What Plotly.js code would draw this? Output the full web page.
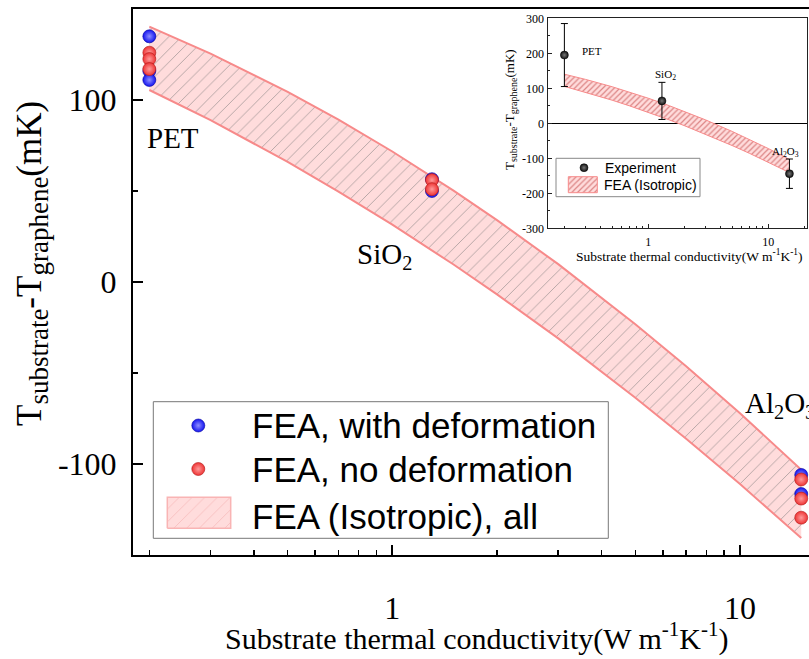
<!DOCTYPE html>
<html><head><meta charset="utf-8">
<script src="https://cdn.plot.ly/plotly-3.0.1.min.js"></script>
<style>html,body{margin:0;padding:0;overflow:hidden;background:#fff}#chart{width:821px;height:659px}</style>
</head><body><div id="chart"></div>
<script>
// ---------- data ----------
const withDefK = [0.2, 0.2, 0.2, 1.3, 1.3, 15, 15];
const withDefT = [135, 116, 111, 56.5, 50, -106, -116.5];
const noDefK = [0.2, 0.2, 0.2, 1.3, 1.3, 15, 15, 15];
const noDefT = [126, 122.5, 117, 56, 51, -108.5, -119, -129.5];
const bandK = [0.2, 0.3, 0.5, 0.7, 1, 1.5, 2, 3, 5, 7, 10, 15];
const bandUpper = [140.3, 125.5, 104.5, 89.2, 71.7, 50.2, 34.0, 9.8, -23.2, -46.3, -72.1, -103.1];
const bandLower = [105.5, 88.9, 66.0, 49.7, 31.5, 9.6, -6.8, -31.0, -63.6, -86.1, -111.0, -140.7];
const expK = [0.2, 1.3, 15];
const expT = [195, 64, -144];
const expErr = [90, 53, 42];
const xTickVals = [1, 10];
const xTickText = ['1', '10'];
const xMinorVals = [0.2, 0.3, 0.4, 0.5, 0.6, 0.7, 0.8, 0.9, 2, 3, 4, 5, 6, 7, 8, 9, 20];
const yTickVals = [-100, 0, 100];
const yTickText = ['-100', '0', '100'];
const yMinorVals = [-150, -50, 50, 150];
const insetYTickVals = [-300, -200, -100, 0, 100, 200, 300];
const insetYTickText = ['-300', '-200', '-100', '0', '100', '200', '300'];
const insetYMinorVals = [-250, -150, -50, 50, 150, 250];
const mainLabels = ['PET', 'SiO<sub>2</sub>', 'Al<sub>2</sub>O<sub>3</sub>'];
const legendNames = ['FEA, with deformation', 'FEA, no deformation', 'FEA (Isotropic), all'];
const insetLegendNames = ['Experiment', 'FEA (Isotropic)'];

// ---------- geometry helpers (pixel -> paper) ----------
const L = 133, R = 821, T = 9, B = 555;
const px = x => (x - L) / (R - L);
const py = y => 1 - (y - T) / (B - T);

const serif = 'Liberation Serif, Times New Roman, serif';
const sans = 'Liberation Sans, Arial, sans-serif';
const bandLine = {color: '#f78a8a', width: 2};
const blueM = {size: 13, color: '#1414f0', gradient: {type: 'radial', color: '#8f8fff'}, line: {width: 0.6, color: '#0000a0'}};
const redM = {size: 13, color: '#ee3434', gradient: {type: 'radial', color: '#ff9b9b'}, line: {width: 0.6, color: '#b01818'}};
const blackM = {size: 8, color: '#111', gradient: {type: 'radial', color: '#777'}, line: {width: 0.5, color: '#000'}};
const mainPattern = {shape: '/', fgcolor: 'rgba(110,110,110,0.55)', bgcolor: '#ffdcdc', size: 9, solidity: 0.1};
const insetPattern = {shape: '/', fgcolor: 'rgba(210,110,110,0.8)', bgcolor: '#ffdcdc', size: 4, solidity: 0.3};

const traces = [
  {x: bandK, y: bandLower, mode: 'lines', line: bandLine, showlegend: false, hoverinfo: 'skip'},
  {x: bandK, y: bandUpper, mode: 'lines', line: bandLine, fill: 'tonexty', fillcolor: '#ffdcdc', fillpattern: mainPattern, showlegend: false, hoverinfo: 'skip'},
  {x: withDefK, y: withDefT, mode: 'markers', marker: blueM, showlegend: false},
  {x: noDefK, y: noDefT, mode: 'markers', marker: redM, showlegend: false},
  {x: bandK, y: bandLower, xaxis: 'x2', yaxis: 'y2', mode: 'lines', line: {color: '#f78a8a', width: 1}, showlegend: false},
  {x: bandK, y: bandUpper, xaxis: 'x2', yaxis: 'y2', mode: 'lines', line: {color: '#f78a8a', width: 1}, fill: 'tonexty', fillcolor: '#ffdcdc', fillpattern: insetPattern, showlegend: false},
  {x: expK, y: expT, xaxis: 'x2', yaxis: 'y2', mode: 'markers', marker: blackM,
   error_y: {type: 'data', array: expErr, visible: true, color: '#000', thickness: 1, width: 3.5}, showlegend: false}
];

// legend swatches (layout only, on a hidden paper-like axis)
const lgRows = [425.5, 469, 516.5];
traces.push({x: [px(198.3)], y: [py(lgRows[0])], xaxis: 'x3', yaxis: 'y3', mode: 'markers', marker: blueM, showlegend: false, hoverinfo: 'skip'});
traces.push({x: [px(198.3)], y: [py(lgRows[1])], xaxis: 'x3', yaxis: 'y3', mode: 'markers', marker: redM, showlegend: false, hoverinfo: 'skip'});
const rx0 = px(167.3), rx1 = px(230.7), ry0 = py(528.3), ry1 = py(497.3);
traces.push({x: [rx0, rx1, rx1, rx0, rx0], y: [ry0, ry0, ry1, ry1, ry0], xaxis: 'x3', yaxis: 'y3', mode: 'lines',
  line: {color: '#f9b4b4', width: 1.5}, fill: 'toself', fillcolor: '#ffdada',
  fillpattern: {shape: '/', fgcolor: 'rgba(240,160,160,0.5)', bgcolor: '#ffdcdc', size: 9, solidity: 0.1}, showlegend: false, hoverinfo: 'skip'});
traces.push({x: [px(584)], y: [py(167.7)], xaxis: 'x3', yaxis: 'y3', mode: 'markers', marker: blackM, showlegend: false, hoverinfo: 'skip'});
const ix0 = px(568.3), ix1 = px(597.3), iy0 = py(192.7), iy1 = py(176.7);
traces.push({x: [ix0, ix1, ix1, ix0, ix0], y: [iy0, iy0, iy1, iy1, iy0], xaxis: 'x3', yaxis: 'y3', mode: 'lines',
  line: {color: '#f78a8a', width: 1}, fill: 'toself', fillcolor: '#ffdcdc', fillpattern: insetPattern, showlegend: false, hoverinfo: 'skip'});

const ann = [];
function addAnn(text, x, y, size, family, xanchor, extra) {
  ann.push(Object.assign({text: text, x: px(x), y: py(y), xref: 'paper', yref: 'paper', showarrow: false,
    xanchor: xanchor || 'center', yanchor: 'middle', font: {family: family, size: size, color: '#000'}}, extra || {}));
}
// main labels
addAnn(mainLabels[0], 145, 138, 29, serif, 'left');
addAnn(mainLabels[1], 355, 256, 29, serif, 'left');
addAnn(mainLabels[2], 743, 405, 29, serif, 'left');
// inset labels
addAnn('PET', 580, 51, 11, serif, 'left');
addAnn('SiO<sub>2</sub>', 653, 75, 11, serif, 'left');
addAnn('Al<sub>2</sub>O<sub>3</sub>', 770, 152, 11, serif, 'left');
// legend texts
addAnn(legendNames[0], 250, lgRows[0], 35, sans, 'left');
addAnn(legendNames[1], 250, lgRows[1], 35, sans, 'left');
addAnn(legendNames[2], 250, lgRows[2], 35, sans, 'left');
addAnn(insetLegendNames[0], 602.5, 167.7, 14, sans, 'left');
addAnn(insetLegendNames[1], 601.5, 185, 14, sans, 'left');
// axis titles
addAnn('Substrate thermal conductivity(W m<sup>-1</sup>K<sup>-1</sup>)', 477, 636, 30, serif, 'center');
addAnn('T<sub><span style="font-size:27px">substrate</span></sub>-T<sub><span style="font-size:27px">graphene</span></sub>(mK)', 32, 264, 35, serif, 'center', {textangle: -90});
addAnn('Substrate thermal conductivity(W m<sup>-1</sup>K<sup>-1</sup>)', 689, 256, 13.5, serif, 'center');
addAnn('T<sub><span style="font-size:10px">substrate</span></sub>-T<sub><span style="font-size:10px">graphene</span></sub>(mK)', 510, 110, 13, serif, 'center', {textangle: -90});

const shapes = [
  {type: 'rect', xref: 'paper', yref: 'paper', x0: px(153.3), x1: px(608.3), y0: py(538.3), y1: py(401.7), line: {color: '#777', width: 1}, fillcolor: 'rgba(0,0,0,0)'},
  {type: 'rect', xref: 'paper', yref: 'paper', x0: px(556), x1: px(700), y0: py(196.7), y1: py(158.3), line: {color: '#888', width: 1}, fillcolor: 'rgba(0,0,0,0)'}
];

const layout = {
  width: 821, height: 659,
  margin: {l: L, r: 0, t: T, b: 659 - B, autoexpand: false},
  paper_bgcolor: '#fff', plot_bgcolor: 'rgba(0,0,0,0)',
  showlegend: false,
  xaxis: {type: 'log', range: [Math.log10(0.1795), Math.log10(17.1)], showline: true, linewidth: 2, linecolor: '#000', mirror: true,
    showgrid: false, zeroline: false, ticks: 'inside', ticklen: 10, tickwidth: 2, tickcolor: '#000',
    tickmode: 'array', tickvals: xTickVals, ticktext: xTickText, ticklabelstandoff: 24,
    tickfont: {family: serif, size: 32, color: '#000'},
    minor: {tickmode: 'array', tickvals: xMinorVals, ticks: 'inside', ticklen: 5, tickwidth: 1.5, tickcolor: '#000', showgrid: false}},
  yaxis: {range: [-150, 150], showline: true, linewidth: 2, linecolor: '#000', mirror: true,
    showgrid: false, zeroline: false, ticks: 'inside', ticklen: 10, tickwidth: 2, tickcolor: '#000',
    tickmode: 'array', tickvals: yTickVals, ticktext: yTickText, ticklabelstandoff: 8,
    tickfont: {family: serif, size: 32, color: '#000'},
    minor: {tickmode: 'array', tickvals: yMinorVals, ticks: 'inside', ticklen: 5, tickwidth: 1.5, tickcolor: '#000', showgrid: false}},
  xaxis2: {type: 'log', domain: [px(548.3), px(806.7)], anchor: 'y2', range: [-0.833, 1.32], showline: true, linewidth: 1, linecolor: '#222', mirror: true,
    showgrid: false, zeroline: false, ticks: 'inside', ticklen: 4, tickwidth: 1, tickcolor: '#222',
    tickmode: 'array', tickvals: xTickVals, ticktext: xTickText, ticklabelstandoff: 2,
    tickfont: {family: serif, size: 12, color: '#000'},
    minor: {tickmode: 'array', tickvals: xMinorVals, ticks: 'inside', ticklen: 2, tickwidth: 1, tickcolor: '#222', showgrid: false}},
  yaxis2: {domain: [py(228.3), py(18.3)], anchor: 'x2', range: [-300, 300], showline: true, linewidth: 1, linecolor: '#222', mirror: true,
    showgrid: false, zeroline: true, zerolinecolor: '#000', zerolinewidth: 1, ticks: 'inside', ticklen: 4, tickwidth: 1, tickcolor: '#222',
    tickmode: 'array', tickvals: insetYTickVals, ticktext: insetYTickText, ticklabelstandoff: 1,
    tickfont: {family: serif, size: 12, color: '#000'},
    minor: {tickmode: 'array', tickvals: insetYMinorVals, ticks: 'inside', ticklen: 2, tickwidth: 1, tickcolor: '#222', showgrid: false}},
  xaxis3: {domain: [0, 1], anchor: 'y3', range: [0, 1], visible: false, fixedrange: true},
  yaxis3: {domain: [0, 1], anchor: 'x3', range: [0, 1], visible: false, fixedrange: true},
  annotations: ann,
  shapes: shapes
};

Plotly.newPlot('chart', traces, layout, {displayModeBar: false, staticPlot: true});
</script></body></html>
